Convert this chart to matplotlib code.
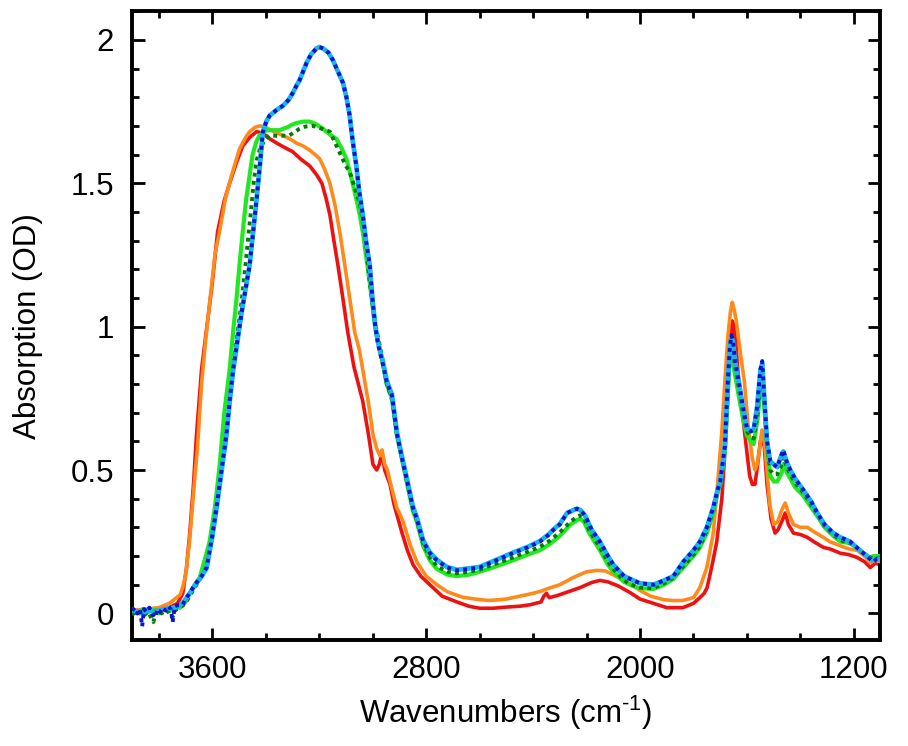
import matplotlib
matplotlib.use("Agg")
import matplotlib.pyplot as plt
from matplotlib.ticker import MultipleLocator, FuncFormatter

plt.rcParams['font.family'] = ['Liberation Sans', 'DejaVu Sans']
plt.rcParams['mathtext.fontset'] = 'custom'
plt.rcParams['mathtext.rm'] = 'Liberation Sans'
plt.rcParams['mathtext.it'] = 'Liberation Sans:italic'
plt.rcParams['mathtext.bf'] = 'Liberation Sans:bold'

# ---------------- data (wavenumber, absorbance) ----------------
red_wn = [3900, 3850, 3800, 3760, 3730, 3710, 3696, 3684, 3670, 3659, 3640, 3620, 3600, 3580, 3555,
          3535, 3510, 3486, 3460, 3434, 3411, 3385, 3359, 3330, 3299, 3270, 3235, 3210, 3190, 3175,
          3160, 3145, 3130, 3110, 3093, 3070, 3037, 3015, 2999, 2985, 2975, 2965, 2955, 2943, 2935,
          2920, 2890, 2870, 2849, 2820, 2786, 2740, 2685, 2640, 2600, 2550, 2500, 2450, 2412, 2370,
          2360, 2350, 2340, 2310, 2270, 2224, 2180, 2150, 2120, 2080, 2038, 2000, 1950, 1900, 1875,
          1840, 1800, 1776, 1760, 1749, 1730, 1713, 1694, 1680, 1670, 1660, 1655, 1648, 1640, 1630,
          1615, 1600, 1590, 1580, 1570, 1560, 1550, 1544, 1535, 1525, 1510, 1495, 1485, 1470, 1457,
          1445, 1426, 1400, 1374, 1350, 1314, 1290, 1251, 1220, 1188, 1160, 1139, 1120, 1100]
red_abs = [0.01, 0.012, 0.012, 0.02, 0.035, 0.07, 0.16, 0.28, 0.45, 0.62, 0.85, 1.0, 1.15, 1.33, 1.44,
           1.50, 1.57, 1.63, 1.66, 1.68, 1.675, 1.655, 1.64, 1.625, 1.61, 1.585, 1.56, 1.53, 1.50, 1.45,
           1.39, 1.30, 1.215, 1.09, 0.98, 0.86, 0.74, 0.62, 0.52, 0.50, 0.52, 0.56, 0.50, 0.47, 0.45,
           0.38, 0.28, 0.22, 0.17, 0.13, 0.10, 0.06, 0.04, 0.025, 0.018, 0.018, 0.022, 0.025, 0.03, 0.04,
           0.06, 0.07, 0.055, 0.062, 0.075, 0.09, 0.108, 0.115, 0.11, 0.095, 0.073, 0.05, 0.035, 0.02, 0.02,
           0.02, 0.035, 0.055, 0.07, 0.09, 0.17, 0.25, 0.40, 0.60, 0.80, 0.96, 1.02, 1.0, 0.92, 0.80,
           0.68, 0.56, 0.48, 0.45, 0.45, 0.52, 0.60, 0.62, 0.58, 0.45, 0.33, 0.28, 0.29, 0.32, 0.35,
           0.31, 0.28, 0.275, 0.265, 0.25, 0.23, 0.225, 0.21, 0.205, 0.195, 0.18, 0.16, 0.175, 0.17]

orange_wn = [3900, 3850, 3800, 3760, 3740, 3720, 3711, 3700, 3685, 3670, 3655, 3640, 3625, 3610, 3590,
             3573, 3550, 3530, 3498, 3475, 3460, 3440, 3423, 3400, 3370, 3336, 3310, 3285, 3260, 3235,
             3215, 3198, 3180, 3160, 3140, 3123, 3105, 3086, 3067, 3050, 3037, 3015, 2999, 2985, 2973,
             2965, 2955, 2945, 2935, 2910, 2886, 2860, 2835, 2800, 2760, 2720, 2662, 2600, 2562, 2500,
             2450, 2400, 2362, 2350, 2300, 2250, 2200, 2162, 2130, 2100, 2060, 2030, 2000, 1960, 1912,
             1880, 1840, 1800, 1776, 1750, 1726, 1710, 1694, 1680, 1670, 1662, 1655, 1648, 1640, 1625,
             1610, 1595, 1580, 1570, 1562, 1552, 1544, 1535, 1525, 1515, 1500, 1485, 1470, 1457, 1445,
             1426, 1400, 1374, 1350, 1314, 1290, 1251, 1220, 1188, 1160, 1139, 1120, 1100]
orange_abs = [0.01, 0.015, 0.02, 0.035, 0.05, 0.065, 0.09, 0.13, 0.25, 0.42, 0.58, 0.80, 0.95, 1.08, 1.25,
              1.33, 1.45, 1.52, 1.62, 1.66, 1.68, 1.695, 1.70, 1.695, 1.68, 1.667, 1.655, 1.64, 1.63, 1.615,
              1.60, 1.585, 1.55, 1.50, 1.42, 1.33, 1.22, 1.10, 0.98, 0.92, 0.85, 0.73, 0.625, 0.575, 0.55,
              0.57, 0.52, 0.50, 0.46, 0.37, 0.32, 0.24, 0.18, 0.13, 0.10, 0.075, 0.056, 0.048, 0.045, 0.05,
              0.06, 0.07, 0.08, 0.085, 0.10, 0.125, 0.145, 0.15, 0.148, 0.135, 0.115, 0.10, 0.08, 0.06, 0.048,
              0.045, 0.045, 0.055, 0.09, 0.16, 0.28, 0.45, 0.635, 0.85, 0.98, 1.05, 1.085, 1.06, 1.02, 0.91,
              0.81, 0.65, 0.54, 0.50, 0.52, 0.58, 0.64, 0.60, 0.50, 0.38, 0.31, 0.32, 0.36, 0.385, 0.35,
              0.31, 0.30, 0.30, 0.285, 0.265, 0.25, 0.236, 0.225, 0.22, 0.20, 0.177, 0.185, 0.18]

green_wn = [3900, 3880, 3860, 3840, 3820, 3800, 3780, 3760, 3740, 3720, 3700, 3685, 3665, 3647, 3630,
            3610, 3590, 3573, 3555, 3535, 3520, 3510, 3498, 3485, 3473, 3460, 3449, 3435, 3423, 3398,
            3370, 3348, 3320, 3300, 3285, 3260, 3235, 3210, 3186, 3160, 3136, 3115, 3098, 3080, 3061,
            3048, 3037, 3025, 3011, 2995, 2985, 2970, 2962, 2948, 2928, 2909, 2890, 2873, 2850, 2835,
            2811, 2786, 2760, 2720, 2685, 2640, 2600, 2550, 2475, 2420, 2375, 2340, 2300, 2260, 2236,
            2224, 2210, 2190, 2150, 2120, 2100, 2060, 2025, 2000, 1950, 1910, 1875, 1838, 1800, 1776,
            1750, 1726, 1710, 1700, 1683, 1672, 1665, 1658, 1650, 1633, 1615, 1600, 1585, 1575, 1560,
            1548, 1543, 1535, 1525, 1513, 1500, 1487, 1470, 1464, 1450, 1438, 1420, 1389, 1360, 1337,
            1310, 1277, 1250, 1214, 1190, 1165, 1140, 1127, 1100]
green_abs = [0.01, 0.0, 0.015, 0.005, 0.012, 0.0, 0.015, 0.008, 0.02, 0.02, 0.04, 0.07, 0.10, 0.125, 0.18,
             0.25, 0.37, 0.51, 0.70, 0.85, 1.0, 1.09, 1.215, 1.34, 1.445, 1.53, 1.60, 1.645, 1.667, 1.685,
             1.685, 1.685, 1.695, 1.705, 1.71, 1.715, 1.715, 1.705, 1.69, 1.67, 1.655, 1.62, 1.585, 1.52, 1.445,
             1.39, 1.33, 1.25, 1.155, 1.03, 0.97, 0.91, 0.87, 0.80, 0.75, 0.62, 0.535, 0.46, 0.36, 0.32,
             0.235, 0.185, 0.155, 0.135, 0.13, 0.135, 0.145, 0.16, 0.185, 0.205, 0.22, 0.24, 0.27, 0.31, 0.325,
             0.33, 0.32, 0.28, 0.22, 0.17, 0.145, 0.11, 0.095, 0.088, 0.085, 0.10, 0.12, 0.16, 0.20, 0.23,
             0.28, 0.35, 0.42, 0.45, 0.56, 0.75, 0.88, 0.90, 0.86, 0.77, 0.68, 0.62, 0.60, 0.59, 0.68,
             0.80, 0.82, 0.72, 0.58, 0.48, 0.46, 0.46, 0.49, 0.52, 0.49, 0.47, 0.44, 0.41, 0.37, 0.34,
             0.30, 0.27, 0.25, 0.245, 0.23, 0.21, 0.195, 0.20, 0.20]

dkgreen_wn = [3900, 3880, 3860, 3840, 3820, 3810, 3790, 3770, 3750, 3735, 3720, 3700, 3685, 3665, 3640,
              3621, 3600, 3584, 3565, 3547, 3535, 3522, 3505, 3490, 3475, 3460, 3445, 3434, 3420, 3400,
              3386, 3350, 3311, 3290, 3273, 3250, 3224, 3190, 3160, 3140, 3120, 3100, 3086, 3065, 3048,
              3030, 3011, 2995, 2985, 2970, 2962, 2948, 2928, 2909, 2890, 2873, 2850, 2835, 2811, 2786,
              2760, 2720, 2685, 2640, 2600, 2550, 2475, 2420, 2375, 2340, 2300, 2260, 2236, 2224, 2210,
              2190, 2150, 2120, 2100, 2060, 2025, 2000, 1950, 1910, 1875, 1838, 1800, 1776, 1750, 1726,
              1710, 1700, 1683, 1672, 1665, 1658, 1650, 1633, 1615, 1600, 1585, 1575, 1560, 1548, 1543,
              1535, 1525, 1513, 1500, 1487, 1470, 1464, 1450, 1438, 1420, 1389, 1360, 1337, 1310, 1277,
              1250, 1214, 1190, 1165, 1140, 1127, 1100]
dkgreen_abs = [-0.005, 0.01, -0.01, 0.005, -0.03, 0.01, 0.0, 0.012, -0.015, 0.015, 0.02, 0.035, 0.06, 0.09, 0.13,
               0.16, 0.27, 0.37, 0.50, 0.625, 0.74, 0.85, 0.98, 1.09, 1.22, 1.36, 1.50, 1.58, 1.625, 1.655,
               1.667, 1.665, 1.667, 1.68, 1.69, 1.698, 1.70, 1.69, 1.68, 1.64, 1.60, 1.56, 1.54, 1.48, 1.43,
               1.33, 1.155, 1.04, 0.985, 0.92, 0.875, 0.805, 0.745, 0.622, 0.54, 0.465, 0.365, 0.325, 0.245, 0.195,
               0.165, 0.145, 0.14, 0.145, 0.153, 0.17, 0.195, 0.215, 0.232, 0.252, 0.283, 0.32, 0.337, 0.342, 0.333,
               0.29, 0.23, 0.18, 0.155, 0.115, 0.098, 0.09, 0.088, 0.105, 0.125, 0.165, 0.205, 0.235, 0.29, 0.36,
               0.425, 0.455, 0.57, 0.78, 0.91, 0.93, 0.89, 0.80, 0.70, 0.635, 0.615, 0.61, 0.70, 0.83, 0.85,
               0.74, 0.59, 0.50, 0.485, 0.485, 0.52, 0.545, 0.51, 0.485, 0.455, 0.42, 0.38, 0.345, 0.305, 0.275,
               0.255, 0.245, 0.23, 0.21, 0.195, 0.19, 0.195]

cyan_wn = [3900, 3880, 3860, 3840, 3820, 3800, 3780, 3760, 3740, 3720, 3700, 3685, 3665, 3640, 3621,
           3600, 3584, 3565, 3547, 3535, 3522, 3490, 3460, 3434, 3420, 3411, 3398, 3385, 3360, 3336,
           3315, 3298, 3285, 3273, 3260, 3247, 3230, 3210, 3200, 3185, 3165, 3149, 3130, 3111, 3098,
           3086, 3075, 3061, 3050, 3037, 3025, 3011, 3000, 2990, 2980, 2970, 2962, 2948, 2935, 2928,
           2918, 2909, 2890, 2873, 2850, 2835, 2811, 2786, 2760, 2722, 2685, 2640, 2600, 2550, 2475,
           2420, 2375, 2340, 2325, 2300, 2273, 2250, 2236, 2222, 2205, 2180, 2150, 2120, 2100, 2060,
           2025, 2000, 1950, 1910, 1875, 1838, 1800, 1776, 1750, 1726, 1710, 1700, 1683, 1672, 1664,
           1658, 1652, 1645, 1633, 1615, 1600, 1585, 1575, 1562, 1550, 1543, 1535, 1525, 1513, 1500,
           1487, 1472, 1464, 1452, 1438, 1420, 1389, 1360, 1337, 1310, 1277, 1250, 1214, 1190, 1165,
           1140, 1127, 1115, 1100]
cyan_abs = [0.012, 0.005, 0.0, 0.012, 0.005, 0.01, 0.015, 0.018, 0.02, 0.028, 0.048, 0.068, 0.098, 0.128, 0.158,
            0.265, 0.365, 0.495, 0.62, 0.735, 0.845, 1.05, 1.215, 1.445, 1.58, 1.677, 1.715, 1.736, 1.755, 1.77,
            1.79, 1.816, 1.84, 1.86, 1.89, 1.92, 1.95, 1.97, 1.975, 1.97, 1.955, 1.93, 1.89, 1.85, 1.80,
            1.736, 1.65, 1.56, 1.47, 1.39, 1.30, 1.215, 1.09, 1.0, 0.945, 0.905, 0.88, 0.815, 0.78, 0.765,
            0.695, 0.63, 0.545, 0.475, 0.375, 0.335, 0.255, 0.213, 0.187, 0.162, 0.152, 0.157, 0.162, 0.182, 0.212,
            0.232, 0.252, 0.277, 0.292, 0.312, 0.35, 0.36, 0.365, 0.36, 0.34, 0.29, 0.25, 0.20, 0.17, 0.13,
            0.115, 0.105, 0.10, 0.115, 0.13, 0.18, 0.22, 0.25, 0.30, 0.37, 0.43, 0.46, 0.58, 0.80, 0.93,
            0.965, 0.945, 0.88, 0.82, 0.72, 0.645, 0.635, 0.64, 0.72, 0.845, 0.87, 0.75, 0.60, 0.53, 0.52,
            0.51, 0.55, 0.565, 0.53, 0.50, 0.47, 0.43, 0.39, 0.35, 0.31, 0.28, 0.265, 0.25, 0.23, 0.21,
            0.19, 0.185, 0.19, 0.19]

blue_wn = [3900, 3890, 3880, 3870, 3862, 3855, 3845, 3835, 3825, 3815, 3805, 3795, 3785, 3775, 3765,
           3755, 3748, 3740, 3725, 3710, 3700, 3685, 3665, 3640, 3621, 3600, 3584, 3565, 3547, 3535,
           3522, 3490, 3460, 3434, 3420, 3411, 3398, 3385, 3360, 3336, 3315, 3298, 3285, 3273, 3260,
           3247, 3230, 3210, 3200, 3185, 3165, 3149, 3130, 3111, 3098, 3086, 3075, 3061, 3050, 3037,
           3025, 3011, 3000, 2990, 2980, 2970, 2962, 2948, 2935, 2928, 2918, 2909, 2890, 2873, 2850,
           2835, 2811, 2786, 2760, 2722, 2685, 2640, 2600, 2550, 2475, 2420, 2375, 2340, 2325, 2300,
           2273, 2250, 2236, 2222, 2205, 2180, 2150, 2120, 2100, 2060, 2025, 2000, 1950, 1910, 1875,
           1838, 1800, 1776, 1750, 1726, 1710, 1700, 1683, 1672, 1664, 1658, 1652, 1645, 1633, 1615,
           1600, 1585, 1575, 1562, 1550, 1543, 1535, 1525, 1513, 1500, 1487, 1472, 1464, 1452, 1438,
           1420, 1389, 1360, 1337, 1310, 1277, 1250, 1214, 1190, 1165, 1140, 1127, 1115, 1100]
blue_abs = [0.01, 0.02, 0.0, 0.015, -0.045, 0.015, 0.005, 0.02, 0.0, -0.015, 0.015, 0.005, 0.02, 0.01, 0.025,
            0.015, -0.03, 0.025, 0.03, 0.03, 0.05, 0.07, 0.10, 0.13, 0.16, 0.27, 0.37, 0.50, 0.625, 0.74,
            0.85, 1.05, 1.215, 1.445, 1.58, 1.677, 1.715, 1.736, 1.755, 1.77, 1.79, 1.816, 1.84, 1.86, 1.89,
            1.92, 1.95, 1.97, 1.975, 1.97, 1.955, 1.93, 1.89, 1.85, 1.80, 1.736, 1.65, 1.56, 1.47, 1.39,
            1.30, 1.215, 1.09, 1.0, 0.94, 0.90, 0.87, 0.81, 0.775, 0.76, 0.69, 0.625, 0.54, 0.47, 0.37,
            0.33, 0.25, 0.21, 0.185, 0.16, 0.15, 0.155, 0.16, 0.18, 0.21, 0.23, 0.25, 0.275, 0.29, 0.31,
            0.35, 0.36, 0.365, 0.36, 0.34, 0.29, 0.25, 0.20, 0.17, 0.13, 0.115, 0.105, 0.10, 0.115, 0.13,
            0.18, 0.22, 0.25, 0.30, 0.37, 0.43, 0.46, 0.58, 0.80, 0.93, 0.97, 0.95, 0.88, 0.82, 0.72,
            0.645, 0.635, 0.64, 0.72, 0.85, 0.88, 0.75, 0.60, 0.53, 0.52, 0.51, 0.55, 0.57, 0.53, 0.50,
            0.47, 0.43, 0.39, 0.35, 0.31, 0.28, 0.265, 0.25, 0.23, 0.21, 0.19, 0.18, 0.19, 0.19]

x_ticks = [3600, 2800, 2000, 1200]
y_ticks = [0, 0.5, 1, 1.5, 2]

# ---------------- figure ----------------
fig = plt.figure(figsize=(9.08, 7.46), dpi=100)
ax = fig.add_axes([0.1454, 0.142, 0.8236, 0.843])

ax.plot(red_wn, red_abs, color='#ee1111', lw=2.6, zorder=2)
ax.plot(orange_wn, orange_abs, color='#ff8a1c', lw=2.6, zorder=3)
ax.plot(green_wn, green_abs, color='#22e822', lw=3.0, zorder=4)
ax.plot(dkgreen_wn, dkgreen_abs, color='#067a06', lw=2.8, ls=(0, (1, 1.1)), zorder=5)
ax.plot(cyan_wn, cyan_abs, color='#19b4ef', lw=3.4, zorder=6)
ax.plot(blue_wn, blue_abs, color='#0a14c8', lw=2.8, ls=(0, (1, 1.1)), zorder=7)

ax.set_xlim(3900, 1103)
ax.set_ylim(-0.093, 2.1)
ax.set_xticks(x_ticks)
ax.set_yticks(y_ticks)
ax.xaxis.set_minor_locator(MultipleLocator(200))
ax.yaxis.set_minor_locator(MultipleLocator(0.1))
ax.yaxis.set_major_formatter(FuncFormatter(lambda v, p: f"{v:g}"))

for s in ax.spines.values():
    s.set_linewidth(2.8)
ax.tick_params(which='both', direction='in', top=True, right=True, width=2.0)
ax.tick_params(which='major', length=9, labelsize=22.5)
ax.tick_params(which='minor', length=5)
ax.tick_params(axis='x', which='major', pad=11)
ax.tick_params(axis='y', which='major', pad=13)

ax.set_xlabel('Wavenumbers (cm$^{\\text{-1}}$)', fontsize=22.5, labelpad=6)
ax.set_ylabel('Absorption (OD)', fontsize=22.5, labelpad=20)

fig.savefig('out.png', dpi=100)
